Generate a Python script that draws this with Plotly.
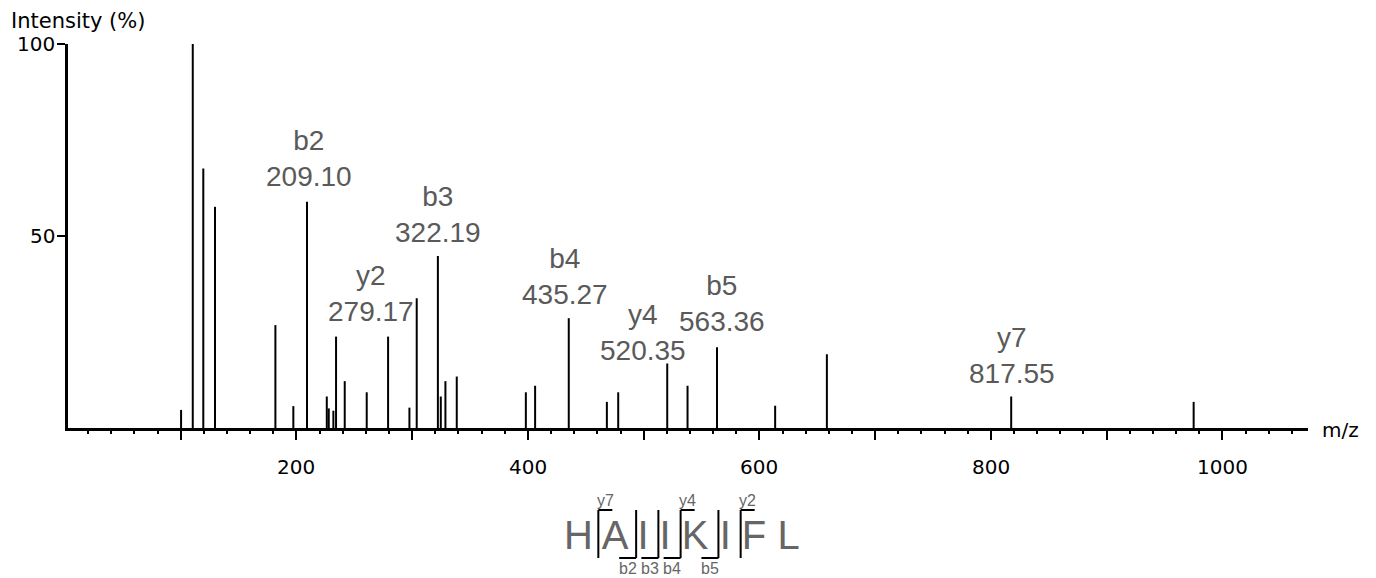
import plotly.graph_objects as go

# Centroided MS/MS peak list (m/z, relative intensity %)
mz = [100.3, 110.4, 119.5, 129.6, 181.8, 197.3, 209.10, 226.2, 227.9, 231.9,
      234.2, 241.7, 260.7, 279.17, 297.6, 303.9, 322.19, 324.7, 328.7, 338.5,
      398.2, 406.2, 435.27, 468.2, 478.0, 520.35, 537.9, 563.36, 613.6, 658.3,
      817.55, 975.2]
intensity = [4.7, 100.0, 67.6, 57.6, 26.8, 5.7, 58.9, 8.2, 5.1, 4.5,
             23.8, 12.2, 9.3, 23.8, 5.3, 33.8, 44.8, 8.2, 12.2, 13.4,
             9.3, 11.0, 28.6, 6.8, 9.3, 16.8, 11.0, 21.0, 5.8, 19.2,
             8.2, 6.8]

# Assigned fragment ions
ion_names = ["b2", "y2", "b3", "b4", "y4", "b5", "y7"]
ion_mz = [209.10, 279.17, 322.19, 435.27, 520.35, 563.36, 817.55]

# Peptide sequence and observed cleavages
sequence = "HAIIKIFL"
b_ions = [2, 3, 4, 5]
y_ions = [7, 4, 2]

# Axis ticks
x_tick_vals = [100, 200, 300, 400, 500, 600, 700, 800, 900, 1000]
x_tick_text = ["", "200", "", "400", "", "600", "", "800", "", "1000"]
y_tick_vals = [50, 100]
y_tick_text = ["50", "100"]

W, H = 1376, 578
ML, MR, MT, MB = 68, 68, 44, 150
PW, PH = W - ML - MR, H - MT - MB


def px(x):
    return (x - ML) / PW


def py(y):
    return (H - MB - y) / PH


# Stick spectrum: one vertical segment per peak
sx, sy = [], []
for m, i in zip(mz, intensity):
    sx += [m, m, None]
    sy += [0, i, None]

fig = go.Figure()
fig.add_trace(go.Scatter(x=sx, y=sy, mode="lines",
                         line=dict(color="black", width=2),
                         hoverinfo="skip", showlegend=False))

tick_font = dict(family="DejaVu Sans", size=20, color="black")
label_font = dict(family="Liberation Sans, Arial, Helvetica", size=28, color="#5a5a5a")
seq_color = "#666666"

annotations = []

# Tick labels, placed below / beside the axis ticks
for v, t in zip(x_tick_vals, x_tick_text):
    if t:
        annotations.append(dict(x=v, y=py(467), xref="x", yref="paper", text=t,
                                showarrow=False, xanchor="center", yanchor="middle",
                                font=tick_font))
for v, t in zip(y_tick_vals, y_tick_text):
    annotations.append(dict(x=px(57), y=v, xref="paper", yref="y", text=t,
                            showarrow=False, xanchor="right", yanchor="middle",
                            font=tick_font))

# Peak labels above the assigned ions
label_offsets = {"b2": (2, 8), "y2": (-17, 8), "b3": (0, 6), "b4": (-4, 6),
                 "y4": (-24, -5), "b5": (5, 8), "y7": (1, 6)}
for name, m in zip(ion_names, ion_mz):
    inten = intensity[mz.index(m)]
    dx, dy = label_offsets[name]
    annotations.append(dict(x=m, y=inten, xref="x", yref="y", text=f"{name}<br>{m:.2f}",
                            showarrow=False, xanchor="center", yanchor="bottom",
                            xshift=dx, yshift=dy, font=label_font))

# Axis titles
annotations.append(dict(x=px(9), y=py(21), xref="paper", yref="paper", text="Intensity (%)",
                        showarrow=False, xanchor="left", yanchor="middle",
                        font=dict(family="DejaVu Sans", size=21, color="black")))
annotations.append(dict(x=px(1320), y=py(430), xref="paper", yref="paper", text="m/z",
                        showarrow=False, xanchor="left", yanchor="middle", font=tick_font))

# Sequence with fragmentation brackets
seq_size = 40
adv = {"H": 0.722, "A": 0.667, "I": 0.278, "K": 0.667, "F": 0.611, "L": 0.556, " ": 0.278}
seq_text = " ".join(sequence)
x0 = 563.9
annotations.append(dict(x=px(x0 - 2), y=py(535), xref="paper", yref="paper", text=seq_text,
                        showarrow=False, xanchor="left", yanchor="middle",
                        font=dict(family="Liberation Sans, Arial, Helvetica", size=seq_size,
                                  color=seq_color)))

# x position (pixels) of the gap after each residue
gap_x = []
cum = 0.0
for k, ch in enumerate(sequence):
    cum += adv[ch]
    if k < len(sequence) - 1:
        gap_x.append(x0 + seq_size * (cum + adv[" "] / 2))
        cum += adv[" "]

shapes = []
top_y, bot_y = 510, 558
small_font = dict(family="Liberation Sans, Arial, Helvetica", size=16, color=seq_color)
line_style = dict(color="black", width=2)
used_gaps = set()
for n in b_ions:
    used_gaps.add(n - 1)
for n in y_ions:
    used_gaps.add(len(sequence) - n - 1)
for g in sorted(used_gaps):
    gx = gap_x[g]
    shapes.append(dict(type="line", xref="paper", yref="paper",
                       x0=px(gx), x1=px(gx), y0=py(top_y), y1=py(bot_y), line=line_style))
for n in b_ions:
    gx = gap_x[n - 1]
    shapes.append(dict(type="line", xref="paper", yref="paper",
                       x0=px(gx - 17), x1=px(gx), y0=py(bot_y), y1=py(bot_y), line=line_style))
    annotations.append(dict(x=px(gx - 8.5), y=py(568), xref="paper", yref="paper",
                            text=f"b{n}", showarrow=False, xanchor="center", yanchor="middle",
                            font=small_font))
for n in y_ions:
    gx = gap_x[len(sequence) - n - 1]
    shapes.append(dict(type="line", xref="paper", yref="paper",
                       x0=px(gx), x1=px(gx + 14), y0=py(top_y), y1=py(top_y), line=line_style))
    annotations.append(dict(x=px(gx + 7), y=py(500), xref="paper", yref="paper",
                            text=f"y{n}", showarrow=False, xanchor="center", yanchor="middle",
                            font=small_font))

fig.update_layout(
    width=W, height=H,
    margin=dict(l=ML, r=MR, t=MT, b=MB, pad=0),
    paper_bgcolor="white", plot_bgcolor="white",
    showlegend=False,
    annotations=annotations,
    shapes=shapes,
    xaxis=dict(range=[2.6, 1074], showgrid=False, zeroline=False,
               showline=True, linecolor="black", linewidth=3,
               tickmode="array", tickvals=x_tick_vals, showticklabels=False,
               ticks="outside", ticklen=9, tickwidth=2, tickcolor="black",
               minor=dict(dtick=20, ticks="outside", ticklen=3, tickwidth=2, tickcolor="black")),
    yaxis=dict(range=[0, 100], showgrid=False, zeroline=False,
               showline=True, linecolor="black", linewidth=3,
               tickmode="array", tickvals=y_tick_vals, showticklabels=False,
               ticks="outside", ticklen=8, tickwidth=2, tickcolor="black"),
)

fig.write_html("out.html")
